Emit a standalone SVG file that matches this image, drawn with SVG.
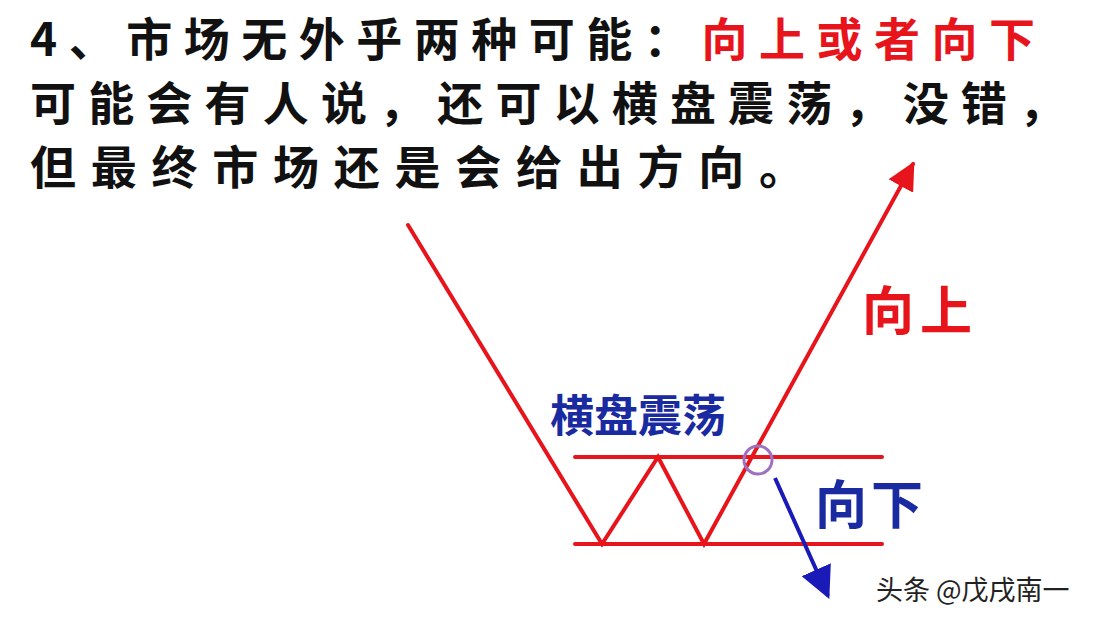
<svg xmlns="http://www.w3.org/2000/svg" width="1094" height="624" viewBox="0 0 1094 624">
<defs>
<style>
.t{font-family:"Noto Sans CJK SC","Liberation Sans",sans-serif;font-weight:bold}
.r{stroke:#e8141c;stroke-width:4;fill:none;stroke-linecap:round}
</style>
<marker id="ar" viewBox="0 0 10 10" refX="9" refY="5" markerWidth="7" markerHeight="7" orient="auto" markerUnits="strokeWidth"><path d="M0,0L10,5L0,10z" fill="#e8141c"/></marker>
<marker id="ab" viewBox="0 0 10 10" refX="9" refY="5" markerWidth="8" markerHeight="8" orient="auto" markerUnits="strokeWidth"><path d="M0,0L10,5L0,10z" fill="#1a1ab8"/></marker>
</defs>
<rect width="1094" height="624" fill="#fff"/>
<g id="title" class="t" font-size="46">
<text x="30" y="56" textLength="1005" lengthAdjust="spacing"><tspan fill="#111">4、市场无外乎两种可能：</tspan><tspan fill="#e8141c">向上或者向下</tspan></text>
<text x="30" y="120" fill="#111" textLength="1035" lengthAdjust="spacing">可能会有人说，还可以横盘震荡，没错，</text>
<text x="30" y="184" fill="#111" textLength="775" lengthAdjust="spacing">但最终市场还是会给出方向。</text>
</g>
<g id="connectors">
<line class="r" x1="575" y1="457" x2="882" y2="457"/>
<line class="r" x1="575" y1="544" x2="882" y2="544"/>
<polyline class="r" points="408,225 602,544 658,457 704,544 913,164" marker-end="url(#ar)"/>
<line x1="775" y1="478" x2="828" y2="596" stroke="#1a1ab8" stroke-width="4" marker-end="url(#ab)"/>
</g>
<g id="circle"><circle cx="758" cy="460" r="14" fill="none" stroke="#a070c0" stroke-width="3"/></g>
<g id="up"><text class="t" x="862" y="330" font-size="52" fill="#e8141c" letter-spacing="6">向上</text></g>
<g id="range"><text class="t" x="550" y="432" font-size="44" fill="#1a2aa0">横盘震荡</text></g>
<g id="down"><text class="t" x="815" y="524" font-size="52" fill="#1a2aa0" letter-spacing="4">向下</text></g>
<g id="wm"><text x="876" y="600" font-size="27" fill="#222" font-family="Noto Sans CJK SC,sans-serif">头条 @戊戌南一</text></g>
</svg>
